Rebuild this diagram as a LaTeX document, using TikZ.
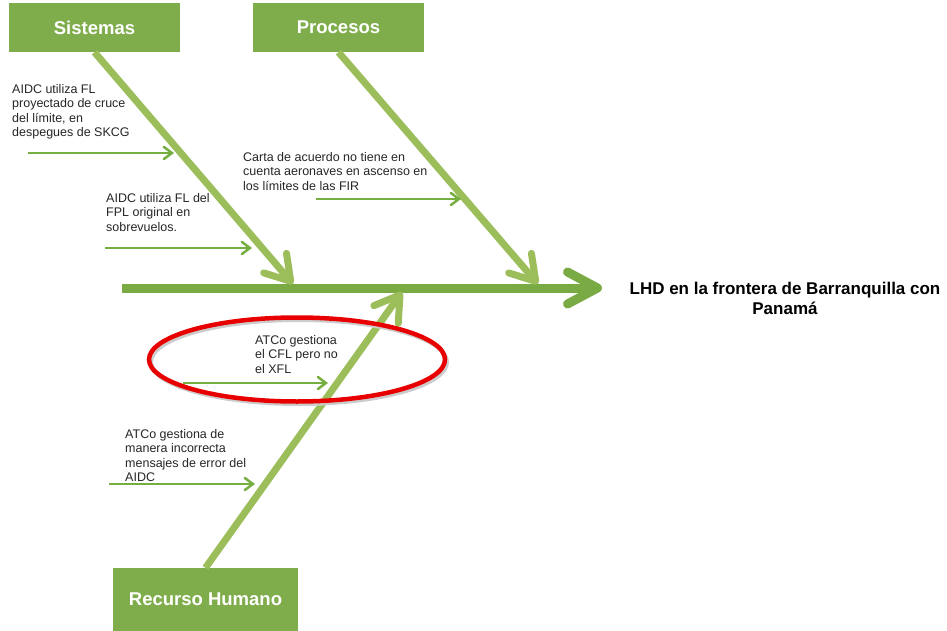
\documentclass[tikz,border=0pt]{standalone}
\usepackage{fontspec}
\setmainfont{Liberation Sans}
\usepackage{tikz}
\usetikzlibrary{shadows}
\usetikzlibrary{positioning}
\usetikzlibrary{arrows.meta,shapes}
\usetikzlibrary{calc}
\definecolor{boxgreen}{RGB}{128,173,76}
\definecolor{spinegreen}{RGB}{122,170,68}
\definecolor{bonegreen}{RGB}{155,190,90}
\definecolor{causegreen}{RGB}{118,174,66}
\definecolor{ringred}{RGB}{232,0,0}
\tikzstyle{category}=[rectangle,fill=boxgreen,draw=none,text=white,font=\fontsize{18.5}{22}\selectfont\bfseries,minimum width=171pt,minimum height=49pt,inner sep=0pt]
\tikzstyle{cause}=[font=\fontsize{12.5}{14.5}\selectfont,align=left,anchor=north west,inner sep=0pt,text=black!85]
\tikzstyle{spine} = [draw,spinegreen,line width=9pt,-{Straight Barb[length=30pt,width=32pt,line cap=round,line join=round]}]
\tikzstyle{bone} = [draw,bonegreen,line width=7pt,-{Straight Barb[length=24pt,width=30pt,line cap=round,line join=round]}]
\tikzstyle{causeedge} = [draw,causegreen,line width=2.5pt,-{Straight Barb[length=8pt,width=12pt,line cap=round]}]
\tikzstyle{effect} = [font=\fontsize{17}{20}\selectfont\bfseries,align=center,inner sep=0pt]
\tikzstyle{ring} = [draw,ringred,line width=4.5pt]

\begin{document}
\begin{tikzpicture}[x=1pt,y=-1pt]

  \useasboundingbox (0,0) rectangle (947,631);

  \foreach \x/\y/\name/\label in {94.5/27.5/sis/Sistemas, 338.5/27.5/pro/Procesos}
          \node[category] (\name) at (\x,\y) {\label};
  \node[category,minimum width=185pt,minimum height=63pt] (hum) at (205.5,599.5) {Recurso Humano};

  \node[effect] (lhd) at (785,298) {LHD en la frontera de Barranquilla con\\Panamá};

  \foreach \x/\y/\name in {122/288/tail, 602/288/head, 293/284/sisend, 538/284/proend, 402/292/humend}
          \coordinate (\name) at (\x,\y);

  \path[spine] (tail) -- (head);

  \foreach \source/ \dest in {sis.south/sisend, pro.south/proend, hum.north/humend}
         \path[bone] (\source) -- (\dest);

  % causas
  \foreach \x/\y/\name/\label in {12/84/c1/{AIDC utiliza FL\\proyectado de cruce\\del límite, en\\despegues de SKCG},
          106/193/c2/{AIDC utiliza FL del\\FPL original en\\sobrevuelos.},
          243/152/c3/{Carta de acuerdo no tiene en\\cuenta aeronaves en ascenso en\\los límites de las FIR},
          255/335/c4/{ATCo gestiona\\el CFL pero no\\el XFL},
          125/429/c5/{ATCo gestiona de\\manera incorrecta\\mensajes de error del\\AIDC}}
          \node[cause] (\name) at (\x,\y) {\label};

  \foreach \x/\y/\name in {28/153/t1, 174/153/h1, 105/248/t2, 252/248/h2, 316/199/t3, 461/199/h3,
          183/383/t4, 328/383/h4, 109/484/t5, 255/484/h5}
          \coordinate (\name) at (\x,\y);

  \foreach \source/ \dest in {t1/h1, t2/h2, t3/h3, t4/h4, t5/h5}
         \path[causeedge] (\source) -- (\dest);

  \draw[black!20,line width=4pt] (299,362) ellipse [x radius=148pt, y radius=42pt];
  \draw[ring] (297,359.5) ellipse [x radius=148pt, y radius=42pt];

\end{tikzpicture}
\end{document}
